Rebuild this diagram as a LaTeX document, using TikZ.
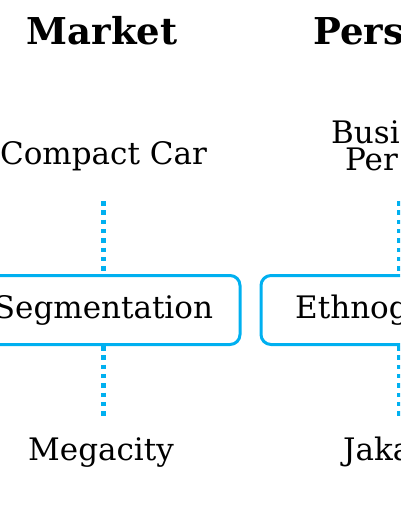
\documentclass[tikz,border=0pt]{standalone}
\usepackage{fontspec}
\setmainfont{DejaVu Serif}
\usetikzlibrary{positioning}
\definecolor{skyblue}{HTML}{00B0F0}

\begin{document}
\begin{tikzpicture}[
        x=1pt, y=-1pt,
        every node/.style={inner sep=0pt},
        head/.style={font=\fontsize{37}{37}\selectfont\bfseries, anchor=base},
        lbl/.style={font=\fontsize{31}{36}\selectfont, anchor=base},
        segbox/.style={draw=skyblue, line width=3pt, rounded corners=10pt, minimum height=69pt},
        dots/.style={draw=skyblue, line width=4.5pt, dash pattern=on 4.5pt off 4.8pt}
    ]
        \useasboundingbox (0,0) rectangle (400,516);
        \clip (0,0) rectangle (400,516);

        % Titel
        \node[head] (mkt) at (102,45) {Market};
        \node[head, anchor=base west] (pers) at (313,45) {Pers};

        % Oben
        \node[lbl] (compact) at (103.5,164) {Compact Car};
        \node[lbl, anchor=base west] (busi) at (331,143) {Busi};
        \node[lbl, anchor=base west] (per) at (345,170) {Per};

        % Kaesten
        \node[segbox, minimum width=273pt] (segbox) at (103.5,310) {};
        \node[lbl] (seg) at (103.5,318) {Segmentation};
        \node[segbox, minimum width=277pt] (ethbox) at (399.5,310) {};
        \node[lbl, anchor=base west] (eth) at (295,318) {Ethnog};

        % Unten
        \node[lbl] (mega) at (101,460) {Megacity};
        \node[lbl, anchor=base west] (jaka) at (343,460) {Jaka};

        % Punktlinien
        \coordinate (top1) at (103.5,201);
        \coordinate (bot1) at (103.5,419);
        \coordinate (top2) at (399.5,201);
        \coordinate (bot2) at (399.5,419);
        \draw[dots] (top1) -- (segbox.north);
        \draw[dots] (segbox.south) -- (bot1);
        \draw[dots] (top2) -- (ethbox.north);
        \draw[dots] (ethbox.south) -- (bot2);
    \end{tikzpicture}
\end{document}
